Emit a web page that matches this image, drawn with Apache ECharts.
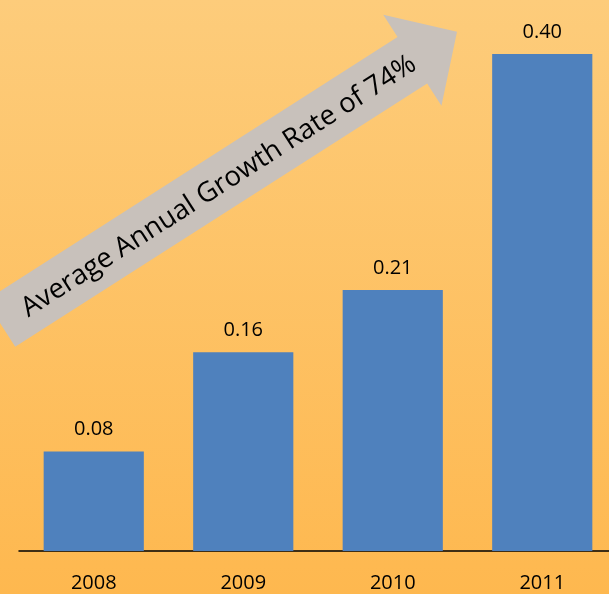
<!DOCTYPE html>
<html><head><meta charset="utf-8">
<script src="https://cdn.jsdelivr.net/npm/echarts@6/dist/echarts.min.js"></script>
<style>html,body{margin:0;padding:0;}#c{width:609px;height:594px;}</style>
</head><body><div id="c"></div>
<script>
var categories = ['2008', '2009', '2010', '2011'];
var values = [0.08, 0.16, 0.21, 0.40];
var arrowText = 'Average Annual Growth Rate of 74%';

var chart = echarts.init(document.getElementById('c'));
var ang = 32.6 * Math.PI / 180;
var L = 542, headLen = 53, hw = 27.5, hh = 54;
chart.setOption({
  backgroundColor: {type: 'linear', x: 0, y: 0, x2: 0, y2: 1,
    colorStops: [{offset: 0, color: '#FDCC7B'}, {offset: 1, color: '#FEB84F'}]},
  animation: false,
  grid: {left: 19, top: 54, right: -8, bottom: 43, outerBoundsMode: 'none', containLabel: false},
  xAxis: {type: 'category', data: categories,
    axisLine: {lineStyle: {color: '#000', width: 1.5}},
    axisTick: {show: false},
    axisLabel: {color: '#000', fontSize: 20, fontFamily: 'Open Sans', margin: 22}},
  yAxis: {type: 'value', min: 0, max: 0.4, show: false, splitLine: {show: false}},
  series: [{type: 'bar', data: values, barCategoryGap: '33%',
    itemStyle: {color: '#4F81BD'},
    label: {show: true, position: 'top', distance: 12, color: '#000', fontSize: 20,
      fontFamily: 'Open Sans', formatter: function (p) { return p.value.toFixed(2); }}}],
  graphic: [{type: 'group', x: 0.4, y: 323.7, rotation: ang, children: [
    {type: 'polygon', shape: {points: [[0, -hw], [L - headLen, -hw], [L - headLen, -hh], [L, 0],
      [L - headLen, hh], [L - headLen, hw], [0, hw]]}, style: {fill: '#C8C1BB'}},
    {type: 'text', x: 258, y: 2, style: {text: arrowText, fill: '#000', fontSize: 27.5,
      fontFamily: 'Open Sans', align: 'center', verticalAlign: 'middle'}}
  ]}]
});
</script></body></html>
